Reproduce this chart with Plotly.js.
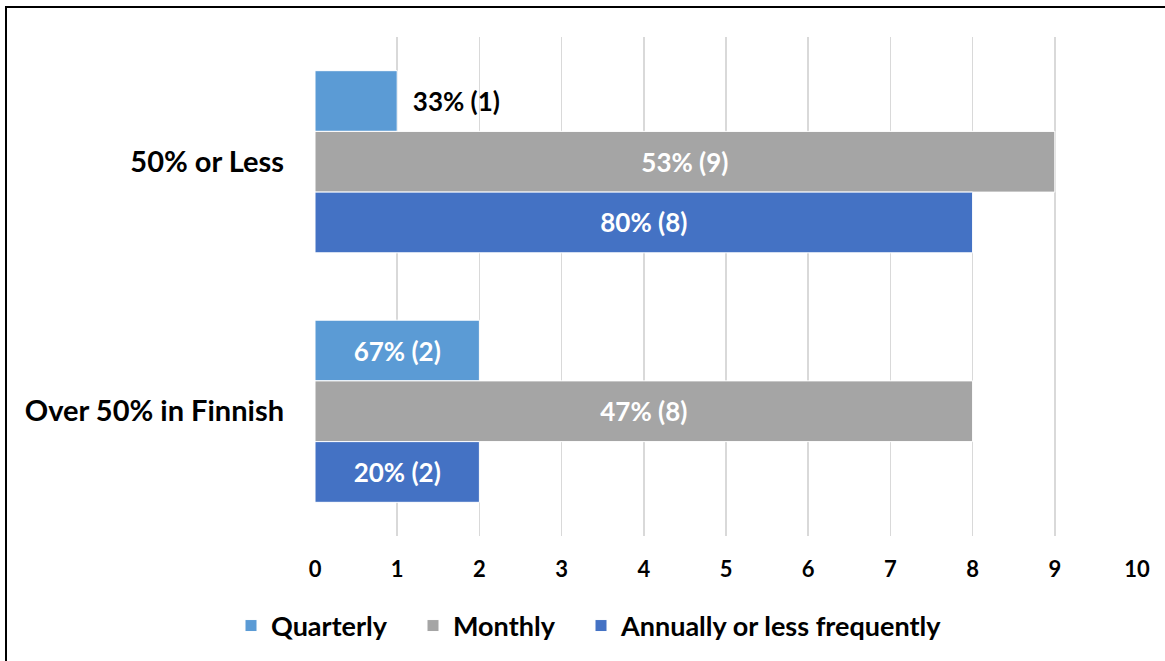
<!DOCTYPE html>
<html>
<head>
<meta charset="utf-8">
<script src="https://cdn.plot.ly/plotly-3.0.1.min.js"></script>
<style>
  html, body { margin: 0; padding: 0; background: #fff; }
  #wrap { position: relative; width: 1165px; height: 661px; overflow: hidden; }
  #chart { position: absolute; left: 0; top: 0; width: 1165px; height: 661px; }
  #frame { position: absolute; left: 5px; top: 6px; width: 1200px; height: 700px;
           border-left: 2px solid #000; border-top: 2px solid #000; pointer-events: none; }
</style>
</head>
<body>
<div id="wrap">
  <div id="chart"></div>
  <div id="frame"></div>
</div>
<script>
// Groups shown on the category axis (top to bottom)
const groups = ["50% or Less", "Over 50% in Finnish"];

// Respondent counts per frequency
const quarterly = [1, 2];
const monthly   = [9, 8];
const annually  = [8, 2];

// Share labels per frequency
const quarterlyPct = ["33%", "67%"];
const monthlyPct   = ["53%", "47%"];
const annuallyPct  = ["80%", "20%"];

const xTicks = [0, 1, 2, 3, 4, 5, 6, 7, 8, 9, 10];

const FONT = "Lato, 'Open Sans', sans-serif";
const W = 1165, H = 661;

function labels(pct, vals) {
  return pct.map((p, i) => p + " (" + vals[i] + ")");
}

function barTrace(name, vals, pct, color, positions, legendId) {
  return {
    type: "bar",
    orientation: "h",
    name: name,
    legend: legendId,
    y: groups,
    x: vals,
    text: labels(pct, vals),
    textposition: positions,
    texttemplate: positions.map(p => p === "outside" ? "\u00a0\u00a0%{text}" : "%{text}"),
    insidetextanchor: "middle",
    insidetextfont: { family: FONT, size: 26, color: "#ffffff", weight: "bold" },
    outsidetextfont: { family: FONT, size: 26, color: "#000000", weight: "bold" },
    constraintext: "none",
    cliponaxis: false,
    marker: { color: color, line: { color: "#ffffff", width: 1 } },
    hoverinfo: "skip"
  };
}

const data = [
  barTrace("Quarterly", quarterly, quarterlyPct, "#5B9BD5", ["outside", "inside"], "legend"),
  barTrace("Monthly", monthly, monthlyPct, "#A5A5A5", ["inside", "inside"], "legend2"),
  barTrace("Annually or less frequently", annually, annuallyPct, "#4472C4", ["inside", "inside"], "legend3")
];

// One legend box per series, laid out in a single row under the axis
function legendAt(px) {
  return {
    orientation: "h",
    xref: "container",
    yref: "container",
    x: px / W,
    xanchor: "left",
    y: 1 - 626 / H,
    yanchor: "middle",
    bgcolor: "rgba(0,0,0,0)",
    font: { family: FONT, size: 27, color: "#000000", weight: "bold" },
    itemclick: false,
    itemdoubleclick: false
  };
}

const layout = {
  width: W,
  height: H,
  paper_bgcolor: "#ffffff",
  plot_bgcolor: "#ffffff",
  margin: { l: 315, r: 28, t: 37, b: 125 },
  barmode: "group",
  bargap: 0.27,
  bargroupgap: 0,
  showlegend: true,
  font: { family: FONT, color: "#000000" },
  xaxis: {
    range: [0, 10],
    tickvals: xTicks,
    ticktext: xTicks.map(String),
    showgrid: true,
    gridcolor: "#d9d9d9",
    gridwidth: 1.5,
    zeroline: false,
    showline: false,
    ticks: "",
    ticklabelstandoff: 18,
    tickfont: { family: FONT, size: 22, color: "#000000", weight: "bold" },
    fixedrange: true
  },
  yaxis: {
    type: "category",
    categoryorder: "array",
    categoryarray: groups,
    autorange: "reversed",
    showgrid: false,
    zeroline: false,
    showline: false,
    ticks: "",
    ticklabelstandoff: 30,
    tickfont: { family: FONT, size: 29, color: "#000000", weight: "bold" },
    fixedrange: true
  },
  legend: legendAt(231),
  legend2: legendAt(413),
  legend3: legendAt(581)
};

Plotly.newPlot("chart", data, layout, { staticPlot: true, displayModeBar: false });
</script>
</body>
</html>
